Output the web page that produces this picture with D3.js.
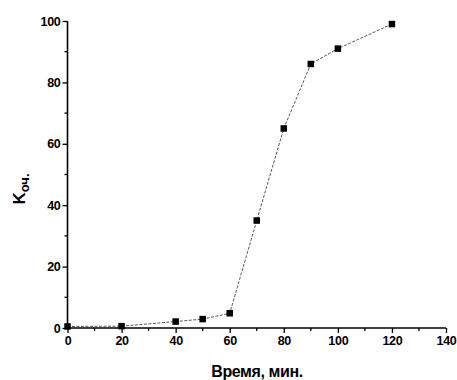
<!DOCTYPE html>
<html>
<head>
<meta charset="utf-8">
<script src="https://cdn.jsdelivr.net/npm/d3@7"></script>
<style>
  html, body { margin: 0; padding: 0; background: #fff; }
  svg { display: block; }
  text { font-family: "Liberation Sans", Arial, sans-serif; font-weight: bold; fill: #000; }
</style>
</head>
<body>
<svg id="chart" width="457" height="380"></svg>
<script>
// Cleaning efficiency vs. time
const times = [0, 20, 40, 50, 60, 70, 80, 90, 100, 120];
const kValues = [0.5, 0.6, 2.1, 2.9, 4.8, 35, 65, 86, 91, 99];
const xTicks = [0, 20, 40, 60, 80, 100, 120, 140];
const yTicks = [0, 20, 40, 60, 80, 100];
const xMinor = [10, 30, 50, 70, 90, 110, 130];
const yMinor = [10, 30, 50, 70, 90];

const svg = d3.select("#chart");
const plotL = 67.5, plotR = 446, plotT = 21, plotB = 328;

const x = d3.scaleLinear().domain([0, 140]).range([plotL, plotR]);
const y = d3.scaleLinear().domain([0, 100]).range([plotB, plotT]);

// connecting line
const line = d3.line().x((d, i) => x(times[i])).y(d => y(d));
svg.append("path")
  .datum(kValues)
  .attr("d", line)
  .attr("fill", "none")
  .attr("stroke", "#444")
  .attr("stroke-width", 0.9)
  .attr("stroke-dasharray", "3,1.5");

// axes
const xAxis = svg.append("g").attr("transform", `translate(0,${plotB})`)
  .call(d3.axisBottom(x).tickValues(xTicks).tickSize(5).tickPadding(3).tickFormat(d3.format("d")));
xAxis.append("g").selectAll("line").data(xMinor).join("line")
  .attr("x1", d => x(d)).attr("x2", d => x(d)).attr("y1", 0).attr("y2", 3)
  .attr("stroke", "#000").attr("stroke-width", 1.3);

const yAxis = svg.append("g").attr("transform", `translate(${plotL},0)`)
  .call(d3.axisLeft(y).tickValues(yTicks).tickSize(5).tickPadding(2).tickFormat(d3.format("d")));
yAxis.append("g").selectAll("line").data(yMinor).join("line")
  .attr("y1", d => y(d)).attr("y2", d => y(d)).attr("x1", 0).attr("x2", -3)
  .attr("stroke", "#000").attr("stroke-width", 1.3);

[xAxis, yAxis].forEach(g => {
  g.select(".domain").attr("stroke", "#000").attr("stroke-width", 1.6);
  g.selectAll(".tick line").attr("stroke", "#000").attr("stroke-width", 1.3);
  g.selectAll(".tick text")
    .style("font-family", '"Liberation Sans", Arial, sans-serif')
    .style("font-weight", "bold")
    .style("font-size", "12.5px")
    .style("letter-spacing", "-0.3px")
    .attr("fill", "#000");
});
// plain axis lines without outer end ticks
xAxis.select(".domain").attr("d", `M${plotL},0H${plotR}`);
yAxis.select(".domain").attr("d", `M0,${plotB}V${plotT}`);

// markers
const s = 6.5;
svg.append("g").selectAll("rect").data(kValues).join("rect")
  .attr("x", (d, i) => x(times[i]) - s / 2)
  .attr("y", d => y(d) - s / 2)
  .attr("width", s).attr("height", s)
  .attr("fill", "#000");

// axis titles
svg.append("text")
  .attr("x", 257).attr("y", 377)
  .attr("text-anchor", "middle")
  .style("font-size", "16px")
  .style("letter-spacing", "-0.4px")
  .text("Время, мин.");

const yt = svg.append("text")
  .attr("transform", "translate(25,189) rotate(-90)")
  .attr("text-anchor", "middle")
  .style("font-size", "17px");
yt.append("tspan").text("K");
yt.append("tspan").attr("dy", 4).style("font-size", "13px").text("оч.");
</script>
</body>
</html>
